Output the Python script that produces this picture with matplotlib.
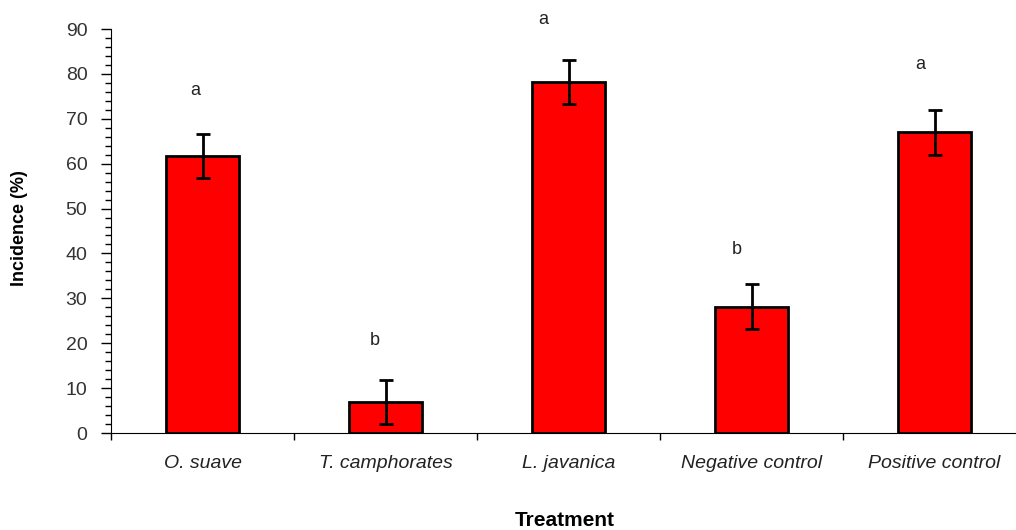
import matplotlib.pyplot as plt
import numpy as np
from matplotlib.ticker import MultipleLocator

plt.rcParams['font.family'] = ['Liberation Sans', 'DejaVu Sans']

# Data
treatments = ["O. suave", "T. camphorates", "L. javanica", "Negative control", "Positive control"]
incidence = [61.7, 6.9, 78.2, 28.1, 67.0]
errors = [4.9, 4.9, 5.0, 5.0, 5.0]
letters = ["a", "b", "a", "b", "a"]
letter_x = [-0.04, 0.94, 1.86, 2.92, 3.92]
letter_y = [76.2, 20.7, 92.2, 40.8, 82.0]

fig = plt.figure(figsize=(10.16, 5.30), dpi=100)
ax = fig.add_axes([111 / 1016, 1 - 433 / 530, 915 / 1016, 404 / 530])

x = np.arange(len(treatments))
ax.bar(x, incidence, width=0.40, color='#ff0000', edgecolor='black', linewidth=2.0,
       yerr=errors, capsize=4.8, error_kw=dict(elinewidth=2, capthick=2, ecolor='black'))

# significance letters
for lx, lab, ly in zip(letter_x, letters, letter_y):
    ax.text(lx, ly, lab, ha='center', va='center', fontsize=13, color='#222222', clip_on=False)

ax.set_xlim(-0.5, len(treatments) - 0.5)
ax.set_ylim(0, 90)
ax.yaxis.set_major_locator(MultipleLocator(10))
ax.yaxis.set_minor_locator(MultipleLocator(2))
ax.tick_params(axis='y', which='major', length=7, width=1, labelsize=14, labelcolor='#333333', pad=10)
ax.tick_params(axis='y', which='minor', length=4, width=1)

# category boundaries as x ticks, labels centered on bars
ax.set_xticks(np.arange(len(treatments)) - 0.5)
ax.set_xticklabels([])
ax.set_xticks(x, minor=True)
ax.set_xticklabels(treatments, minor=True, fontsize=14, style='italic', color='#222222')
ax.tick_params(axis='x', which='major', length=5, width=1)
ax.tick_params(axis='x', which='minor', length=0, pad=16)

ax.spines['top'].set_visible(False)
ax.spines['right'].set_visible(False)

fig.text(20 / 1016, 1 - 228 / 530, "Incidence (%)", rotation=90, ha='center', va='center',
         fontsize=13, fontweight='bold')
fig.text(565 / 1016, 1 - 521 / 530, "Treatment", ha='center', va='center',
         fontsize=15, fontweight='bold')

fig.savefig("out.png", dpi=100)
